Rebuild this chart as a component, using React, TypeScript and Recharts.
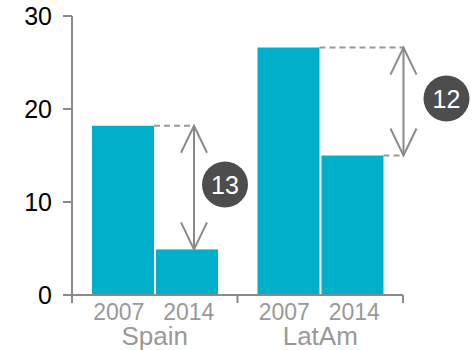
import { BarChart, Bar, XAxis, YAxis } from "recharts"

const regions = ["Spain", "LatAm"]
const years = ["2007", "2014"]
const values2007 = [18.2, 26.6]
const values2014 = [4.9, 15.0]
const diffLabels = ["13", "12"]
const yTicks = [0, 10, 20, 30]

const data = regions.map((r, i) => ({
  region: r,
  y2007: values2007[i],
  y2014: values2014[i],
  diff: diffLabels[i],
}))

const FONT = "'Liberation Sans', Arial, sans-serif"
const BAR = "#00afc9"
const AXIS = "#8a8a8a"
const LABEL = "#999999"
const BAR_GAP = 2

// where the arrow and the bubble sit, relative to the 2014 bar
const arrowDx = [38, 82]
const bubbleDx = [31, 43]

function RegionTick(props: any) {
  const { x, y, payload, index, visibleTicksCount } = props
  const half = payload.offset ?? 82.75
  const last = index === visibleTicksCount - 1
  return (
    <g fontFamily={FONT}>
      <line x1={x - half} x2={x - half} y1={y} y2={y + 8} stroke={AXIS} strokeWidth={2} />
      {last && <line x1={x + half} x2={x + half} y1={y} y2={y + 8} stroke={AXIS} strokeWidth={2} />}
      <text x={x - 36} y={y + 25} textAnchor="middle" fill={LABEL} fontSize={23}>{years[0]}</text>
      <text x={x + 34} y={y + 25} textAnchor="middle" fill={LABEL} fontSize={23}>{years[1]}</text>
      <text x={x} y={y + 50} textAnchor="middle" fill={LABEL} fontSize={26}>{payload.value}</text>
    </g>
  )
}

function LaterBar(props: any) {
  const { x, y, width, height, payload, index } = props
  const ppu = height / payload.y2014
  const top07 = y + height - payload.y2007 * ppu
  const right07 = x - BAR_GAP
  const ax = x + arrowDx[index]
  const mid = (top07 + y) / 2 - 3
  const bx = ax + bubbleDx[index]
  return (
    <g>
      <rect x={x} y={y} width={width} height={height} fill={BAR} />
      <line x1={right07} x2={ax} y1={top07} y2={top07} stroke="#999" strokeWidth={2} strokeDasharray="6 4" />
      {ax > x + width && (
        <line x1={x + width} x2={ax} y1={y} y2={y} stroke="#999" strokeWidth={2} strokeDasharray="6 4" />
      )}
      <line x1={ax} x2={ax} y1={top07} y2={y} stroke={AXIS} strokeWidth={2} />
      <polyline points={`${ax - 13},${top07 + 27} ${ax},${top07} ${ax + 13},${top07 + 27}`} fill="none" stroke={AXIS} strokeWidth={2} />
      <polyline points={`${ax - 13},${y - 27} ${ax},${y} ${ax + 13},${y - 27}`} fill="none" stroke={AXIS} strokeWidth={2} />
      <circle cx={bx} cy={mid} r={23} fill="#4d4d4d" />
      <text x={bx} y={mid + 9} textAnchor="middle" fill="#fff" fontSize={25} fontFamily={FONT}>{payload.diff}</text>
    </g>
  )
}

export default function App() {
  return (
    <div style={{ position: "absolute", left: 0, top: 0, background: "#fff" }}>
      <BarChart
        width={473}
        height={350}
        data={data}
        margin={{ top: 16, right: 70, bottom: 0, left: 0 }}
        barCategoryGap={20}
        barGap={BAR_GAP}
      >
        <YAxis
          domain={[0, 30]}
          ticks={yTicks}
          width={72}
          tickSize={9}
          tickMargin={11}
          axisLine={{ stroke: AXIS, strokeWidth: 2 }}
          tickLine={{ stroke: AXIS, strokeWidth: 2 }}
          tick={{ fill: "#000", fontSize: 25, fontFamily: FONT }}
        />
        <XAxis
          dataKey="region"
          height={55}
          interval={0}
          tickSize={0}
          tickMargin={0}
          tickLine={false}
          axisLine={{ stroke: AXIS, strokeWidth: 2 }}
          tick={<RegionTick />}
        />
        <Bar dataKey="y2007" fill={BAR} isAnimationActive={false} />
        <Bar dataKey="y2014" fill={BAR} isAnimationActive={false} shape={<LaterBar />} />
      </BarChart>
    </div>
  )
}
